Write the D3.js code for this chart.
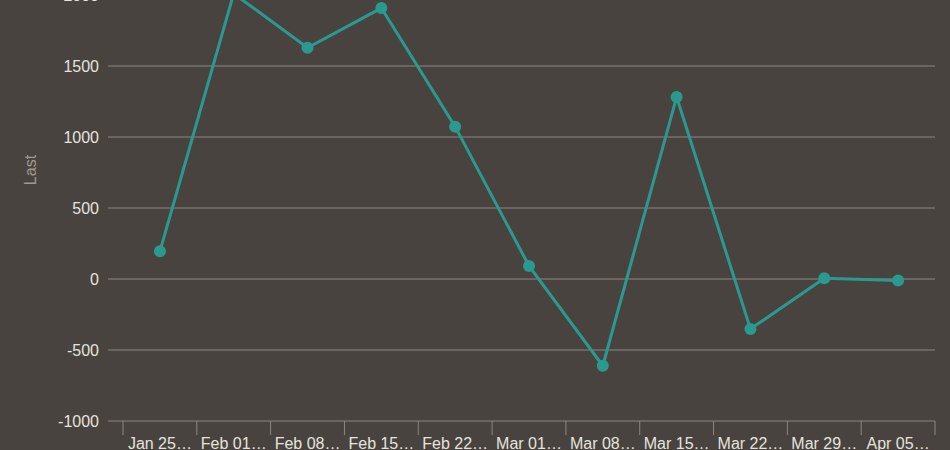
<!DOCTYPE html>
<html>
<head>
<meta charset="utf-8">
<script src="https://cdn.jsdelivr.net/npm/d3@7"></script>
<style>
  html, body { margin: 0; padding: 0; background: #48433e; }
  svg { display: block; font-family: "Liberation Sans", Arial, sans-serif; }
</style>
</head>
<body>
<div id="chart"></div>
<script>
// Categorias (rótulos já truncados como no original)
const weeks = ["Jan 25…", "Feb 01…", "Feb 08…", "Feb 15…", "Feb 22…", "Mar 01…",
               "Mar 08…", "Mar 15…", "Mar 22…", "Mar 29…", "Apr 05…"];
const lastValues = [195, 2010, 1628, 1908, 1073, 92, -611, 1282, -352, 5, -10];
const yTicks = [-1000, -500, 0, 500, 1000, 1500, 2000];

const width = 950;
const height = 450;
const margin = { top: -5, right: 15, bottom: 29, left: 123 };

const svg = d3.select("#chart")
    .append("svg")
    .attr("width", width)
    .attr("height", height);

const x = d3.scaleBand()
    .domain(weeks)
    .range([margin.left, width - margin.right]);

const y = d3.scaleLinear()
    .domain([-1000, 2000])
    .range([height - margin.bottom, margin.top]);

// Linhas de grade
svg.append("g")
    .selectAll("line")
    .data(yTicks.filter(d => d !== -1000))
    .join("line")
    .attr("x1", 108)
    .attr("x2", width - margin.right)
    .attr("y1", d => y(d))
    .attr("y2", d => y(d))
    .attr("stroke", "#8c8782")
    .attr("stroke-width", 1);

// Eixo Y (só rótulos)
svg.append("g")
    .selectAll("text")
    .data(yTicks)
    .join("text")
    .attr("x", 99)
    .attr("y", d => y(d))
    .attr("dy", "0.35em")
    .attr("text-anchor", "end")
    .attr("fill", "#e6e3df")
    .style("font-size", "16px")
    .text(d => d);

// Título do eixo Y
svg.append("text")
    .attr("transform", `translate(36,${170}) rotate(-90)`)
    .attr("text-anchor", "middle")
    .attr("fill", "#9e9994")
    .style("font-size", "16px")
    .text("Last");

// Eixo X
const xAxis = svg.append("g");
xAxis.append("line")
    .attr("x1", 108)
    .attr("x2", width - margin.right)
    .attr("y1", y(-1000))
    .attr("y2", y(-1000))
    .attr("stroke", "#8c8782");

const bounds = weeks.map(d => x(d)).concat([x.range()[1]]);
xAxis.selectAll("line.tick")
    .data(bounds)
    .join("line")
    .attr("class", "tick")
    .attr("x1", d => d)
    .attr("x2", d => d)
    .attr("y1", y(-1000))
    .attr("y2", y(-1000) + 14)
    .attr("stroke", "#8c8782");

xAxis.selectAll("text")
    .data(weeks)
    .join("text")
    .attr("x", d => x(d) + x.bandwidth() / 2)
    .attr("y", 449)
    .attr("text-anchor", "middle")
    .attr("fill", "#e6e3df")
    .style("font-size", "16px")
    .text(d => d);

// Linha
const line = d3.line()
    .x((d, i) => x(weeks[i]) + x.bandwidth() / 2)
    .y(d => y(d));

svg.append("path")
    .datum(lastValues)
    .attr("fill", "none")
    .attr("stroke", "#2a9a91")
    .attr("stroke-width", 3)
    .attr("d", line);

svg.append("g")
    .selectAll("circle")
    .data(lastValues)
    .join("circle")
    .attr("cx", (d, i) => x(weeks[i]) + x.bandwidth() / 2)
    .attr("cy", d => y(d))
    .attr("r", 6)
    .attr("fill", "#2a9a91");
</script>
</body>
</html>
